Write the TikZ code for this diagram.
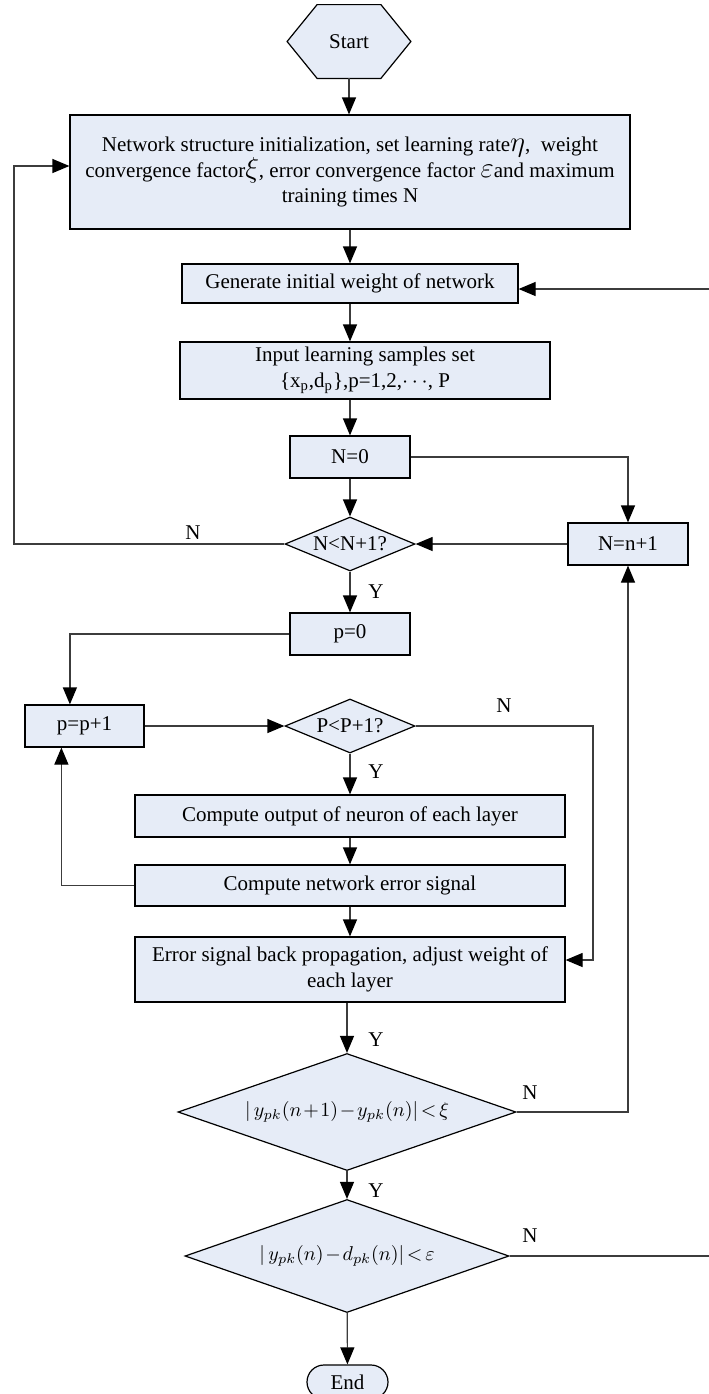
\documentclass[tikz,border=0pt]{standalone}
\usepackage{fontspec}
\setmainfont{Liberation Serif}
\usetikzlibrary{positioning, calc, shapes.geometric, shapes.misc, arrows.meta, backgrounds}

\definecolor{boxblue}{RGB}{230,236,247}
\definecolor{linegray}{RGB}{60,60,60}
\newcommand{\tightcond}[1]{$\medmuskip=1.5mu\relax\thickmuskip=2.5mu\relax #1$}

\begin{document}
\begin{tikzpicture}[x=0.5pt, y=-0.5pt,
    every node/.style={font=\fontsize{10.5}{12.8}\selectfont},
    procbox/.style={draw=black, fill=boxblue, line width=0.6pt, inner sep=0pt, align=center},
    decbox/.style={diamond, draw=black, fill=boxblue, line width=0.6pt, inner sep=0pt, align=center},
    mathcond/.style={font=\fontsize{10}{12}\selectfont},
    flow/.style={draw=linegray, line width=0.6pt, -{Triangle[length=8.5pt, width=7pt, color=black]}},
    tag/.style={inner sep=1pt}]
  \useasboundingbox (0,0) rectangle (708,1394);

  % main column
  \node[inner sep=0pt, minimum width=61.5pt, minimum height=36.5pt] (start) at (349,41.5) {Start};
  \node[procbox, minimum width=280pt, minimum height=57pt] (init) at (350,172)
    {Network structure initialization, set learning rate{\Large$\eta$},\ \ weight\\
     convergence factor{\Large$\xi$}, error convergence factor {\Large$\varepsilon$}and maximum\\
     training times N};
  \node[procbox, minimum width=168pt, minimum height=19.5pt] (gen) at (350,283.5) {Generate initial weight of network};
  \node[procbox, minimum width=185pt, minimum height=28.5pt] (input) at (365,370.5)
    {Input learning samples set\\ \{x\textsubscript{p},d\textsubscript{p}\},p=1,2,$\cdots$, P};
  \node[procbox, minimum width=60pt, minimum height=21pt] (nzero) at (350,457) {N=0};
  \node[decbox, aspect=2.4, minimum width=65pt, minimum height=27pt] (condN) at (350,544) {N<N+1?};
  \node[procbox, minimum width=60pt, minimum height=21pt] (ninc) at (628,544) {N=n+1};
  \node[procbox, minimum width=60pt, minimum height=21pt] (pzero) at (350,634) {p=0};
  \node[procbox, minimum width=59.5pt, minimum height=21pt] (pinc) at (84.5,726) {p=p+1};
  \node[decbox, aspect=2.4, minimum width=65pt, minimum height=27pt] (condP) at (350,726) {P<P+1?};
  \node[procbox, minimum width=215pt, minimum height=21pt] (comp) at (350,816) {Compute output of neuron of each layer};
  \node[procbox, minimum width=215pt, minimum height=20.5pt] (err) at (350,885.5) {Compute network error signal};
  \node[procbox, minimum width=215pt, minimum height=32.5pt] (back) at (350,969.5)
    {Error signal back propagation, adjust weight of\\ each layer};
  \node[decbox, mathcond, aspect=2.9, minimum width=169pt, minimum height=58.5pt] (condW) at (347,1112)
    {\tightcond{|\,y_{pk}(n+1)-y_{pk}(n)|<\xi}};
  \node[decbox, mathcond, aspect=2.87, minimum width=162pt, minimum height=56.5pt] (condE) at (347,1256)
    {\tightcond{|\,y_{pk}(n)-d_{pk}(n)|<\varepsilon}};
  \node[rounded rectangle, draw=black, fill=boxblue, line width=0.6pt, inner sep=0pt,
        minimum width=40.5pt, minimum height=17pt] (stop) at (347.5,1382) {End};

  \begin{scope}[on background layer]
    \draw[fill=boxblue, line width=0.6pt] (start.west) -- ($(start.north west)+(30,0)$)
      -- ($(start.north east)+(-30,0)$) -- (start.east) -- ($(start.south east)+(-30,0)$)
      -- ($(start.south west)+(30,0)$) -- cycle;
  \end{scope}

  % rails for the loops
  \coordinate (leftrail) at (14,0);
  \coordinate (rightrail) at (714,0);
  \coordinate (prail) at (593,0);
  \coordinate (initin) at ($(init.west)+(0,-6)$);
  \coordinate (genin) at ($(gen.east)+(0,5.5)$);
  \coordinate (backin) at ($(back.east)+(0,-9.5)$);
  \coordinate (pinctop) at ($(pinc.north west)+(45.5,0)$);
  \coordinate (pincbot) at ($(pinc.south west)+(37,0)$);

  \draw[flow] (start) -- (start |- init.north);
  \draw[flow] (init) -- (init |- gen.north);
  \draw[flow] (gen) -- (gen |- input.north);
  \draw[flow] (input.south -| nzero) -- (nzero);
  \draw[flow] (nzero) -- (condN);
  \draw[flow] (nzero.east) -| (ninc.north);
  \draw[flow] (ninc.west) -- (condN.east);
  \draw[flow] (condN.west) -- (condN.west -| leftrail) |- (initin);
  \draw[flow] (condN) -- (pzero);
  \draw[flow] (pzero.west) -| (pinctop);
  \draw[flow] (pinc.east) -- (condP.west);
  \draw[flow] (condP) -- (comp);
  \draw[flow] (condP.east) -- (condP.east -| prail) |- (backin);
  \draw[flow] (comp) -- (err);
  \draw[flow] (err) -- (back);
  \draw[flow] (err.west) -| (pincbot);
  \draw[flow] (back.south -| condW) -- (condW.north);
  \draw[flow] (condW.east) -| (ninc.south);
  \draw[flow] (condW) -- (condE);
  \draw[flow] (condE.east) -- (condE.east -| rightrail) |- (genin);
  \draw[flow] (condE) -- (stop);

  % branch labels
  \node[tag] (noN) at (193,533) {N};
  \node[tag] (yesN) at (376,592) {Y};
  \node[tag] (noP) at (504,706) {N};
  \node[tag] (yesP) at (376,772) {Y};
  \node[tag] (yesB) at (376,1040) {Y};
  \node[tag] (noW) at (530,1093) {N};
  \node[tag] (yesW) at (376,1191) {Y};
  \node[tag] (noE) at (530,1236) {N};
\end{tikzpicture}
\end{document}
